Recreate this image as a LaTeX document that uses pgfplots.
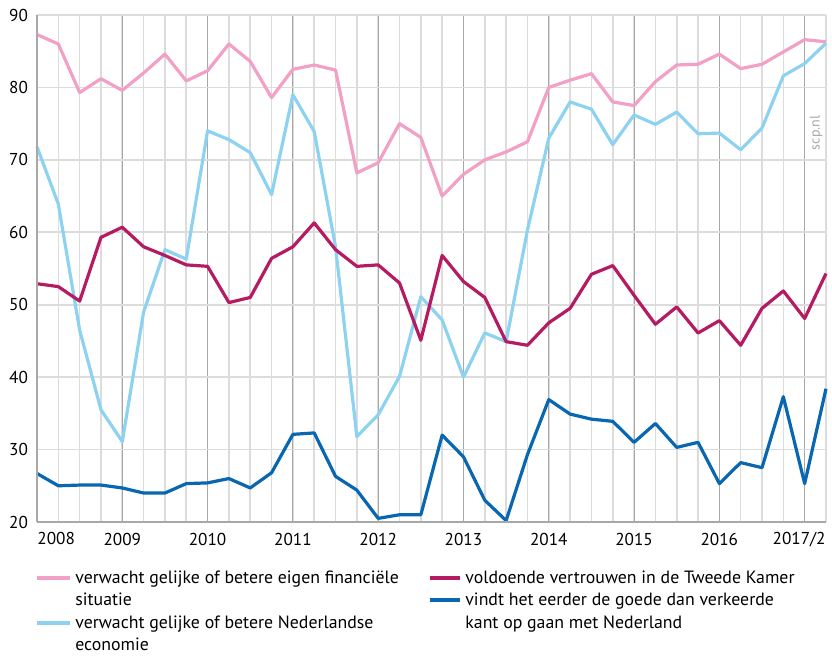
\documentclass[border=0pt]{standalone}
\usepackage{pgfplots}
\pgfplotsset{compat=1.18}
\usepackage{fontspec}
\setmainfont{PT Sans}
\definecolor{cpink}{HTML}{F2A0C6}
\definecolor{clblue}{HTML}{8ED2F2}
\definecolor{ccrim}{HTML}{B41B62}
\definecolor{cblue}{HTML}{0867B0}
\definecolor{gridl}{HTML}{DCDCDC}
\definecolor{gridd}{HTML}{A8A8A8}
\begin{document}
\begin{tikzpicture}[font=\fontsize{8.9pt}{11.25pt}\selectfont]
\begin{axis}[
  name=ax,
  at={(0,0)}, anchor=south west,
  scale only axis, width=394.5pt, height=253.5pt,
  xmin=0, xmax=37, ymin=20, ymax=90,
  axis line style={draw=none},
  xtick={4,8,...,36},
  xticklabels={2009,2010,2011,2012,2013,2014,2015,2016,{}},
  minor xtick={0,1,...,37},
  ytick={20,30,...,90},
  major tick length=0pt, minor tick length=0pt,
  xmajorgrids, xminorgrids, ymajorgrids,
  major x grid style={draw=gridd, line width=0.5pt},
  minor x grid style={draw=gridl, line width=0.8pt},
  major y grid style={draw=gridl, line width=0.8pt},
  /pgf/number format/assume math mode=true,
  ticklabel style={font=\fontsize{8.6pt}{10pt}\selectfont, text=black},
  xticklabel style={yshift=-2pt},
  yticklabel style={xshift=-1pt},
  clip=false,
]
\addplot[cpink, line width=1.6pt, line join=round] coordinates {
(0,87.3)(1,86.0)(2,79.3)(3,81.2)(4,79.6)(5,82.0)(6,84.6)(7,80.9)(8,82.3)(9,86.0)
(10,83.6)(11,78.6)(12,82.5)(13,83.1)(14,82.4)(15,68.2)(16,69.6)(17,75.0)(18,73.1)(19,65.0)
(20,68.0)(21,70.0)(22,71.1)(23,72.5)(24,80.0)(25,81.0)(26,81.9)(27,78.0)(28,77.5)(29,80.8)
(30,83.1)(31,83.2)(32,84.6)(33,82.6)(34,83.2)(35,84.9)(36,86.6)(37,86.3)};
\addplot[clblue, line width=1.6pt, line join=round] coordinates {
(0,71.8)(1,63.9)(2,46.5)(3,35.5)(4,31.1)(5,49.0)(6,57.6)(7,56.3)(8,74.0)(9,72.8)
(10,71.0)(11,65.2)(12,79.0)(13,73.9)(14,58.0)(15,31.8)(16,34.8)(17,40.1)(18,51.1)(19,47.9)
(20,40.0)(21,46.1)(22,44.9)(23,60.3)(24,73.0)(25,78.0)(26,77.0)(27,72.1)(28,76.2)(29,74.9)
(30,76.6)(31,73.6)(32,73.7)(33,71.4)(34,74.4)(35,81.6)(36,83.3)(37,86.1)};
\addplot[ccrim, line width=1.6pt, line join=round] coordinates {
(0,52.9)(1,52.5)(2,50.5)(3,59.3)(4,60.7)(5,58.0)(6,56.8)(7,55.5)(8,55.3)(9,50.3)
(10,51.0)(11,56.4)(12,58.0)(13,61.3)(14,57.6)(15,55.3)(16,55.5)(17,53.0)(18,45.1)(19,56.8)
(20,53.2)(21,51.0)(22,44.9)(23,44.4)(24,47.5)(25,49.5)(26,54.2)(27,55.4)(28,51.3)(29,47.3)
(30,49.7)(31,46.1)(32,47.8)(33,44.4)(34,49.5)(35,51.9)(36,48.1)(37,54.3)};
\addplot[cblue, line width=1.6pt, line join=round] coordinates {
(0,26.7)(1,25.0)(2,25.1)(3,25.1)(4,24.7)(5,24.0)(6,24.0)(7,25.3)(8,25.4)(9,26.0)
(10,24.7)(11,26.8)(12,32.1)(13,32.3)(14,26.3)(15,24.4)(16,20.5)(17,21.0)(18,21.0)(19,32.0)
(20,29.0)(21,23.0)(22,20.2)(23,29.3)(24,36.9)(25,34.9)(26,34.2)(27,33.9)(28,31.0)(29,33.6)
(30,30.3)(31,31.0)(32,25.3)(33,28.2)(34,27.5)(35,37.3)(36,25.3)(37,38.4)};
\end{axis}
% axis lines
\draw[gridd, line width=0.6pt] (0,0) -- (0,253.5pt);
\draw[gridd, line width=0.6pt] (0,0) -- (394.5pt,0);
% edge year labels
\node[anchor=north west, inner sep=0pt] at (0,-4.8pt) {\fontsize{8.6pt}{10pt}\selectfont 2008};
\node[anchor=north east, inner sep=0pt] at (394.5pt,-4.8pt) {\fontsize{8.6pt}{10pt}\selectfont 2017/2};
% watermark
\node[rotate=90, text=gray!70, inner sep=0pt] at (389.5pt,194.5pt) {\fontsize{7pt}{8pt}\selectfont scp.nl};
% legend
\draw[cpink, line width=1.6pt] (0,-28pt) -- (16.5pt,-28pt);
\node[anchor=mid west, inner sep=0pt] at (19pt,-28pt) {verwacht gelijke of betere eigen financiële};
\node[anchor=mid west, inner sep=0pt] at (19pt,-39pt) {situatie};
\draw[clblue, line width=1.6pt] (0,-50.5pt) -- (16.5pt,-50.5pt);
\node[anchor=mid west, inner sep=0pt] at (19pt,-50.5pt) {verwacht gelijke of betere Nederlandse};
\node[anchor=mid west, inner sep=0pt] at (19pt,-61.5pt) {economie};
\draw[ccrim, line width=1.6pt] (196.5pt,-28pt) -- (211.5pt,-28pt);
\node[anchor=mid west, inner sep=0pt] at (214pt,-28pt) {voldoende vertrouwen in de Tweede Kamer};
\draw[cblue, line width=1.6pt] (196.5pt,-39pt) -- (211.5pt,-39pt);
\node[anchor=mid west, inner sep=0pt] at (214pt,-39pt) {vindt het eerder de goede dan verkeerde};
\node[anchor=mid west, inner sep=0pt] at (214pt,-50.5pt) {kant op gaan met Nederland};
\pgfresetboundingbox
\useasboundingbox (-18.5pt,-66.5pt) rectangle (397.5pt,261pt);
\end{tikzpicture}
\end{document}
